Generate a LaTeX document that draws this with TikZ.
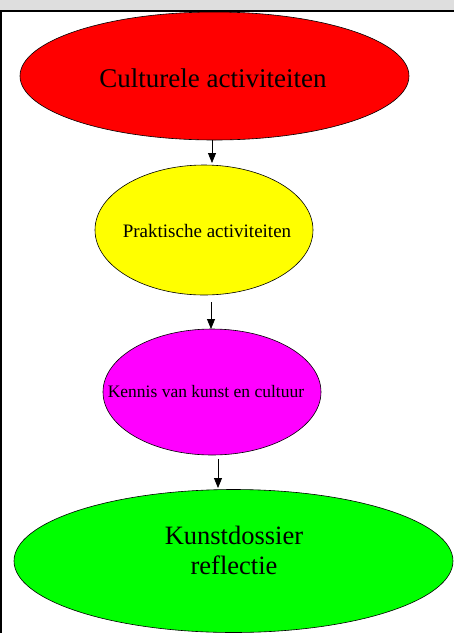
\documentclass[tikz,border=0pt]{standalone}
\usepackage{fontspec}
\setmainfont{Liberation Serif}
\usetikzlibrary{arrows.meta,shapes.geometric}
\definecolor{cred}{RGB}{255,0,0}
\definecolor{cyellow}{RGB}{255,255,0}
\definecolor{cmag}{RGB}{255,0,255}
\definecolor{cgreen}{RGB}{0,255,0}
\definecolor{cgray}{RGB}{222,222,222}
\begin{document}
\begin{tikzpicture}[x=1pt,y=-1pt,
  oval/.style={ellipse,draw=black,line width=0.6pt,inner sep=0pt,align=center},
  arr/.style={-{Triangle[width=8pt,length=10pt]},line width=0.8pt}]
\useasboundingbox (0,0) rectangle (454,633);
\fill[white] (0,0) rectangle (454,633);
\fill[cgray] (0,0) rectangle (454,10);
\draw[line width=2.2pt] (0,11) -- (454,11);
\draw[line width=2.2pt] (1,11) -- (1,633);
\node[oval,fill=cred,minimum width=389pt,minimum height=128pt] (a) at (214.5,76) {};
\node[font=\fontsize{27}{30}\selectfont] (at) at (213,78) {Culturele activiteiten};
\node[oval,fill=cyellow,minimum width=218pt,minimum height=130pt] (b) at (204,230) {};
\node[font=\fontsize{19}{22}\selectfont] (bt) at (207,231) {Praktische activiteiten};
\node[oval,fill=cmag,minimum width=218pt,minimum height=126pt] (c) at (212,392) {};
\node[font=\fontsize{17.5}{20}\selectfont] (ct) at (206,392) {Kennis van kunst en cultuur};
\node[oval,fill=cgreen,minimum width=439pt,minimum height=143pt] (d) at (233.5,561) {};
\node[font=\fontsize{26.5}{30}\selectfont,align=center] (dt) at (234,550.5) {Kunstdossier\\reflectie};
\coordinate (a1) at (212,140);
\coordinate (b0) at (212,163);
\coordinate (b1) at (211,302);
\coordinate (c0) at (211,329);
\coordinate (c1) at (218,459);
\coordinate (d0) at (218,488);
\draw[arr] (a1) -- (b0);
\draw[arr] (b1) -- (c0);
\draw[arr] (c1) -- (d0);
\end{tikzpicture}
\end{document}
